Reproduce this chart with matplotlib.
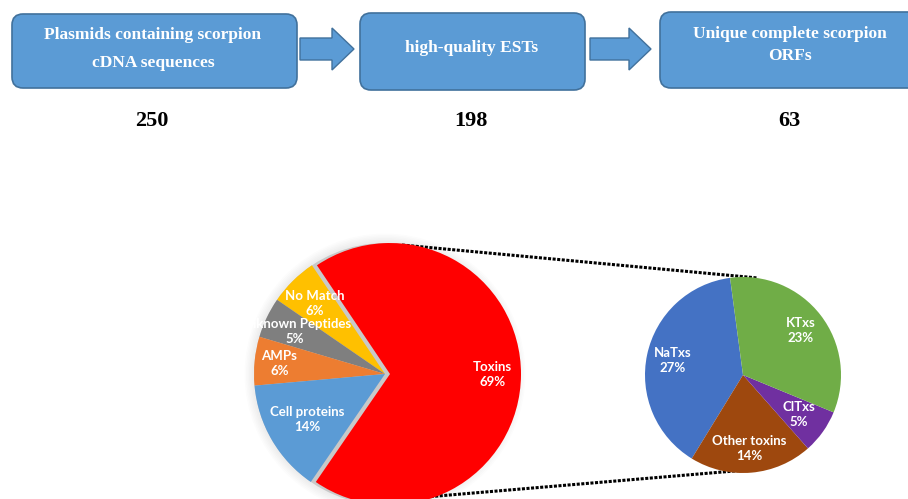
import numpy as np
import matplotlib.pyplot as plt
from matplotlib.patches import FancyBboxPatch, FancyArrow, Circle

# ---- data ----
steps = [["Plasmids containing scorpion", "cDNA sequences"],
         ["high-quality ESTs"],
         ["Unique complete scorpion", "ORFs"]]
step_counts = [250, 198, 63]

main_labels = ["Toxins", "No Match", "Unknown Peptides", "AMPs", "Cell proteins"]
main_values = [69, 6, 5, 6, 14]

toxin_labels = ["NaTxs", "Other toxins", "ClTxs", "KTxs"]
toxin_values = [27, 14, 5, 23]

# ---- styles ----
BOX_FILL = "#5B9BD5"
BOX_EDGE = "#41719C"
main_colors = ["#FF0000", "#FFC000", "#7F7F7F", "#ED7D31", "#5B9BD5"]
toxin_colors = ["#4472C4", "#9E480E", "#7030A0", "#70AD47"]
main_lbl_r = [0.78, 0.76, 0.76, 0.81, 0.69]
toxin_lbl_r = [0.73, 0.75, 0.70, 0.74]

W, H = 908, 499


def Y(y):
    # image rows -> axes y (origin bottom)
    return H - y


fig = plt.figure(figsize=(W / 100, H / 100), dpi=100)
ax = fig.add_axes([0, 0, 1, 1])

# ---- flow boxes ----
boxes = [(12, 14, 285, 74), (360, 13, 225, 77), (660, 12, 262, 76)]
line_y = [[35, 63], [48], [34, 56]]
text_x = [153, 472, 790]
for (bx, by, bw, bh), lines, ys, tx, n in zip(boxes, steps, line_y, text_x, step_counts):
    ax.add_patch(FancyBboxPatch((bx, Y(by + bh)), bw, bh,
                                boxstyle="round,pad=0,rounding_size=11",
                                fc=BOX_FILL, ec=BOX_EDGE, lw=1.2))
    for txt, yy in zip(lines, ys):
        ax.text(tx, Y(yy), txt, ha="center", va="center", color="white",
                fontsize=12.5, fontweight="bold", family="Liberation Serif")
    ax.text(tx - 1, Y(121), str(n), ha="center", va="center", color="black",
            fontsize=16, fontweight="bold", family="Liberation Serif")

for x0, x1 in [(300, 354), (590, 651)]:
    ax.add_patch(FancyArrow(x0, Y(49), x1 - x0, 0, width=22, head_width=42,
                            head_length=22, length_includes_head=True,
                            fc=BOX_FILL, ec=BOX_EDGE, lw=1.0))

# ---- main pie ----
c1, r1 = (385, Y(374)), 131
for k in range(6):
    ax.add_patch(Circle(c1, r1 + 2 + k * 1.5, fc="#000000", alpha=0.012, lw=0))
ax.add_patch(Circle(c1, r1, fc="#C9C9C9", lw=0))
wedges, _ = ax.pie(main_values, colors=main_colors, startangle=235.5,
                   center=c1, radius=r1, explode=[5, 0, 0, 0, 0],
                   wedgeprops=dict(lw=0))
for w, lab, v, rr in zip(wedges, main_labels, main_values, main_lbl_r):
    a = np.deg2rad((w.theta1 + w.theta2) / 2)
    cx, cy = w.center
    ax.text(cx + rr * r1 * np.cos(a), cy + rr * r1 * np.sin(a), f"{lab}\n{v}%",
            ha="center", va="center", color="white", fontsize=9.5,
            fontweight="bold", family="Lato", linespacing=1.3)

# ---- toxin pie ----
c2, r2 = (743, Y(375)), 98
wedges2, _ = ax.pie(toxin_values, colors=toxin_colors, startangle=97.6,
                    center=c2, radius=r2, wedgeprops=dict(lw=0))
for w, lab, v, rr in zip(wedges2, toxin_labels, toxin_values, toxin_lbl_r):
    a = np.deg2rad((w.theta1 + w.theta2) / 2)
    ax.text(c2[0] + rr * r2 * np.cos(a), c2[1] + rr * r2 * np.sin(a), f"{lab}\n{v}%",
            ha="center", va="center", color="white", fontsize=9.5,
            fontweight="bold", family="Lato", linespacing=1.3)

# ---- connector lines ----
for (xa, ya), (xb, yb) in [((402, 245), (758, 278)), ((426, 497), (758, 469))]:
    ax.plot([xa, xb], [Y(ya), Y(yb)], color="black", lw=2.2,
            ls=(0, (1.0, 0.5)), zorder=0.5)

ax.set_xlim(0, W)
ax.set_ylim(0, H)
ax.set_aspect("auto")
ax.axis("off")

fig.savefig("out.png", dpi=100, facecolor="white")
